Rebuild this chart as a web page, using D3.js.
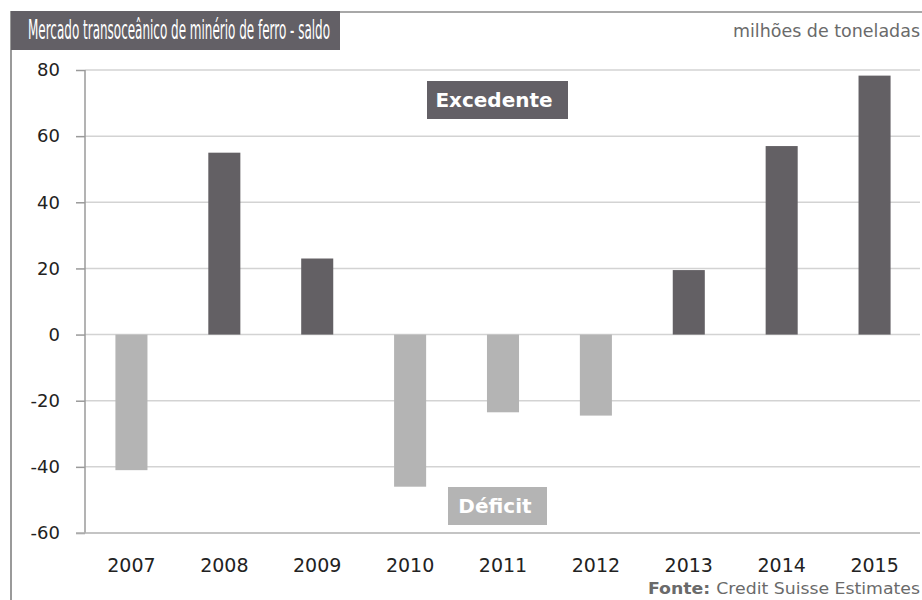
<!DOCTYPE html>
<html>
<head>
<meta charset="utf-8">
<script src="https://cdn.jsdelivr.net/npm/d3@7"></script>
<style>
  body { margin: 0; background: #fff; }
  svg { display: block; }
  text { font-family: "DejaVu Sans", sans-serif; }
</style>
</head>
<body>
<div id="chart"></div>
<script>
// Saldo do mercado transoceânico (milhões de toneladas)
const years = ["2007", "2008", "2009", "2010", "2011", "2012", "2013", "2014", "2015"];
const saldo = [-41, 55, 23, -46, -23.5, -24.5, 19.5, 57, 78.3];
const yTicks = [80, 60, 40, 20, 0, -20, -40, -60];

const width = 922, height = 600;
const darkGray = "#636064", lightGray = "#b4b4b4";

const svg = d3.select("#chart").append("svg")
    .attr("width", width)
    .attr("height", height);

// frame
svg.append("line")
    .attr("x1", 11).attr("x2", 11).attr("y1", 11).attr("y2", height)
    .attr("stroke", "#9a9a9a").attr("stroke-width", 2);
svg.append("line")
    .attr("x1", 11).attr("x2", width).attr("y1", 12).attr("y2", 12)
    .attr("stroke", "#a8a8a8").attr("stroke-width", 2);

// title box
svg.append("rect")
    .attr("x", 11).attr("y", 11).attr("width", 329).attr("height", 39)
    .attr("fill", "#636066");
svg.append("text")
    .attr("x", 28).attr("y", 39)
    .attr("fill", "#fff")
    .attr("font-size", 26)
    .attr("textLength", 302)
    .attr("lengthAdjust", "spacingAndGlyphs")
    .style("font-family", "'Liberation Sans Narrow', 'DejaVu Sans', sans-serif")
    .text("Mercado transoceânico de minério de ferro - saldo");

svg.append("text")
    .attr("x", 920).attr("y", 37)
    .attr("text-anchor", "end")
    .attr("fill", "#6a6a6a")
    .attr("font-size", 17)
    .attr("textLength", 187)
    .attr("lengthAdjust", "spacingAndGlyphs")
    .text("milhões de toneladas");

// scales
const x = d3.scaleBand()
    .domain(years)
    .range([85, 921])
    .paddingInner(0.655)
    .paddingOuter(0.3275);

const y = d3.scaleLinear()
    .domain([-60, 80])
    .range([533, 70]);

// gridlines
svg.append("g")
    .selectAll("line")
    .data(yTicks.filter(d => d !== -60))
    .join("line")
    .attr("x1", 85).attr("x2", 920)
    .attr("y1", d => y(d)).attr("y2", d => y(d))
    .attr("stroke", "#d3d3d3").attr("stroke-width", 1.5);

// y axis
const yAxis = svg.append("g")
    .attr("transform", "translate(85,0)")
    .call(d3.axisLeft(y).tickValues(yTicks).tickSize(9).tickPadding(16)
        .tickFormat(d => d < 0 ? "-" + Math.abs(d) : String(d)));
yAxis.select(".domain").remove();
yAxis.selectAll(".tick line").attr("stroke", "#9a9a9a").attr("stroke-width", 1.5);
yAxis.selectAll(".tick text")
    .attr("font-size", 18)
    .attr("fill", "#222")
    .style("font-family", "'DejaVu Sans', sans-serif");

svg.append("line")
    .attr("x1", 85).attr("x2", 85).attr("y1", y(80)).attr("y2", y(-60))
    .attr("stroke", "#9a9a9a").attr("stroke-width", 1.5);
svg.append("line")
    .attr("x1", 76).attr("x2", 920).attr("y1", y(-60)).attr("y2", y(-60))
    .attr("stroke", "#b0b0b0").attr("stroke-width", 1.5);

// bars
svg.append("g")
    .selectAll("rect")
    .data(years.map((yr, i) => ({ yr, v: saldo[i] })))
    .join("rect")
    .attr("x", d => x(d.yr))
    .attr("width", x.bandwidth())
    .attr("y", d => y(Math.max(0, d.v)))
    .attr("height", d => Math.abs(y(d.v) - y(0)))
    .attr("fill", d => d.v >= 0 ? darkGray : lightGray);

// x labels
svg.append("g")
    .selectAll("text")
    .data(years)
    .join("text")
    .attr("x", d => x(d) + x.bandwidth() / 2)
    .attr("y", 572)
    .attr("text-anchor", "middle")
    .attr("font-size", 19)
    .attr("fill", "#222")
    .text(d => d);

// Excedente / Déficit labels
svg.append("rect")
    .attr("x", 427).attr("y", 81).attr("width", 141).attr("height", 38)
    .attr("fill", "#636066");
svg.append("text")
    .attr("x", 494).attr("y", 107)
    .attr("text-anchor", "middle")
    .attr("fill", "#fff").attr("font-weight", "bold").attr("font-size", 20)
    .text("Excedente");

svg.append("rect")
    .attr("x", 448).attr("y", 487).attr("width", 99).attr("height", 38)
    .attr("fill", lightGray);
svg.append("text")
    .attr("x", 495).attr("y", 513)
    .attr("text-anchor", "middle")
    .attr("fill", "#fff").attr("font-weight", "bold").attr("font-size", 20)
    .text("Déficit");

// source
const src = svg.append("text")
    .attr("x", 920).attr("y", 594)
    .attr("text-anchor", "end")
    .attr("fill", "#6a6a6a")
    .attr("font-size", 16)
    .attr("textLength", 272)
    .attr("lengthAdjust", "spacingAndGlyphs");
src.append("tspan").attr("font-weight", "bold").text("Fonte: ");
src.append("tspan").text("Credit Suisse Estimates");
</script>
</body>
</html>
